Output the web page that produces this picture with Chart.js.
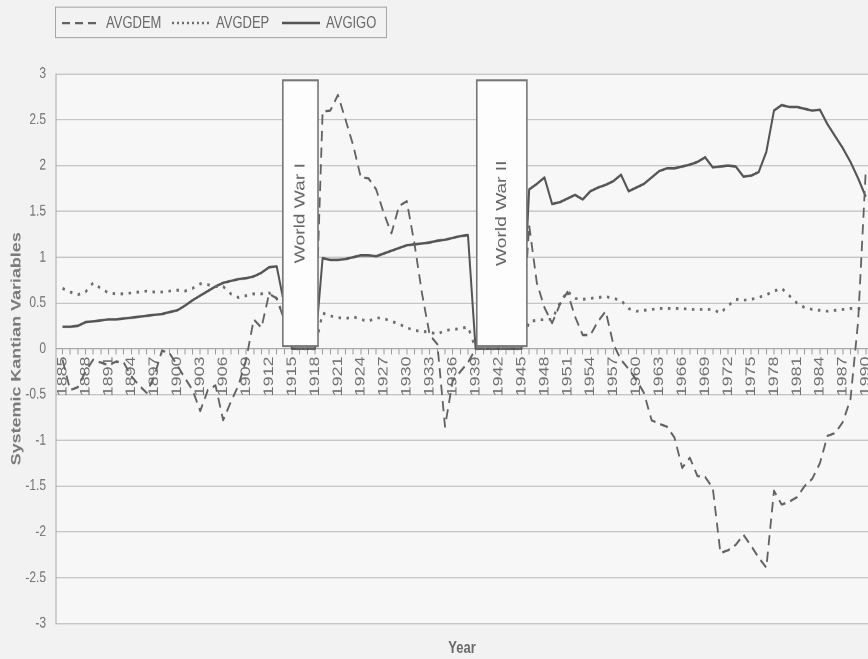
<!DOCTYPE html>
<html>
<head>
<meta charset="utf-8">
<title>Systemic Kantian Variables, 1885-1990</title>
<script src="https://cdn.jsdelivr.net/npm/chart.js@4.4.1/dist/chart.umd.min.js"></script>
<style>
  html, body { margin: 0; padding: 0; background: #f2f2f2; overflow: hidden; }
  /* the figure is laid out at 868x515 and stretched vertically to fill the 659px page */
  #stage {
    position: absolute; left: 0; top: 0; width: 868px; height: 515px;
    transform-origin: 0 0; transform: scaleY(1.2796);
    font-family: "Liberation Sans", Arial, sans-serif;
  }
  #chart { position: absolute; left: 0; top: 0; }
  #legendBox {
    position: absolute; left: 55px; top: 5px; width: 332px; height: 25px;
    border: 1px solid #a5a5a5; box-sizing: border-box;
  }
  .legendItem {
    position: absolute; top: 5px; height: 25px; display: flex; align-items: center;
    font-size: 13px; color: #6a6a6a; white-space: nowrap;
  }
  .legendItem svg { margin-right: 6px; }
  #xTitle {
    position: absolute; left: 56px; width: 812px; top: 498px; text-align: center;
    font-size: 13px; font-weight: bold; color: #6a6a6a;
  }
</style>
</head>
<body>
<div id="stage">
  <canvas id="chart" width="868" height="515"></canvas>
  <div id="legendBox"></div>
  <div id="xTitle">Year</div>
</div>
<script>
// ---- data -------------------------------------------------------------
const years = [
  1885, 1886, 1887, 1888, 1889, 1890, 1891, 1892, 1893, 1894,
  1895, 1896, 1897, 1898, 1899, 1900, 1901, 1902, 1903, 1904,
  1905, 1906, 1907, 1908, 1909, 1910, 1911, 1912, 1913, 1914,
  1915, 1916, 1917, 1918, 1919, 1920, 1921, 1922, 1923, 1924,
  1925, 1926, 1927, 1928, 1929, 1930, 1931, 1932, 1933, 1934,
  1935, 1936, 1937, 1938, 1939, 1940, 1941, 1942, 1943, 1944,
  1945, 1946, 1947, 1948, 1949, 1950, 1951, 1952, 1953, 1954,
  1955, 1956, 1957, 1958, 1959, 1960, 1961, 1962, 1963, 1964,
  1965, 1966, 1967, 1968, 1969, 1970, 1971, 1972, 1973, 1974,
  1975, 1976, 1977, 1978, 1979, 1980, 1981, 1982, 1983, 1984,
  1985, 1986, 1987, 1988, 1989, 1990
];

const avgDem = [
  -0.12, -0.45, -0.42, -0.25, -0.12, -0.15, -0.18, -0.14, -0.15, -0.30,
  -0.40, -0.48, -0.30, -0.02, -0.05, -0.18, -0.32, -0.45, -0.68, -0.45,
  -0.40, -0.78, -0.58, -0.40, -0.12, 0.32, 0.23, 0.60, 0.55, 0.31,
  0, 0, 0, 0, 2.59, 2.60, 2.77, 2.50, 2.22, 1.87,
  1.86, 1.74, 1.48, 1.26, 1.56, 1.61, 1.15, 0.60, 0.15, 0.05,
  -0.85, -0.35, -0.25, -0.15, 0, 0, 0, 0, 0, 0,
  0, 1.35, 0.72, 0.45, 0.28, 0.48, 0.62, 0.35, 0.15, 0.15,
  0.30, 0.41, 0.05, -0.12, -0.22, -0.34, -0.48, -0.78, -0.82, -0.85,
  -0.97, -1.30, -1.19, -1.39, -1.40, -1.52, -2.23, -2.20, -2.14, -2.03,
  -2.15, -2.28, -2.39, -1.55, -1.70, -1.67, -1.62, -1.50, -1.42, -1.25,
  -0.95, -0.92, -0.80, -0.55, 0.30, 1.95
];

const avgDep = [
  0.66, 0.62, 0.59, 0.62, 0.72, 0.66, 0.61, 0.60, 0.60, 0.61,
  0.62, 0.63, 0.62, 0.62, 0.63, 0.64, 0.63, 0.66, 0.71, 0.70,
  0.68, 0.68, 0.60, 0.56, 0.58, 0.60, 0.60, 0.61, 0.55, 0.32,
  0, 0, 0, 0, 0.39, 0.36, 0.34, 0.33, 0.35, 0.32,
  0.30, 0.34, 0.33, 0.30, 0.27, 0.23, 0.20, 0.19, 0.18, 0.16,
  0.20, 0.21, 0.22, 0.24, 0, 0, 0, 0, 0, 0,
  0, 0.30, 0.31, 0.32, 0.32, 0.50, 0.63, 0.55, 0.54, 0.55,
  0.56, 0.57, 0.55, 0.53, 0.44, 0.41, 0.42, 0.43, 0.44, 0.44,
  0.44, 0.44, 0.43, 0.43, 0.43, 0.43, 0.39, 0.47, 0.54, 0.53,
  0.54, 0.56, 0.59, 0.63, 0.66, 0.58, 0.50, 0.45, 0.43, 0.42,
  0.41, 0.42, 0.43, 0.44, 0.44, 0.43
];

const avgIgo = [
  0.24, 0.24, 0.25, 0.29, 0.30, 0.31, 0.32, 0.32, 0.33, 0.34,
  0.35, 0.36, 0.37, 0.38, 0.40, 0.42, 0.47, 0.53, 0.58, 0.63,
  0.68, 0.72, 0.74, 0.76, 0.77, 0.79, 0.83, 0.89, 0.90, 0.48,
  0, 0, 0, 0, 0.99, 0.97, 0.97, 0.98, 1.00, 1.02,
  1.02, 1.01, 1.04, 1.07, 1.10, 1.13, 1.14, 1.15, 1.16, 1.18,
  1.19, 1.21, 1.23, 1.24, 0, 0, 0, 0, 0, 0,
  0, 1.74, 1.80, 1.87, 1.58, 1.60, 1.64, 1.68, 1.63, 1.72,
  1.76, 1.79, 1.83, 1.90, 1.72, 1.76, 1.80, 1.87, 1.94, 1.97,
  1.97, 1.99, 2.01, 2.04, 2.09, 1.98, 1.99, 2.00, 1.99, 1.88,
  1.89, 1.93, 2.15, 2.60, 2.66, 2.64, 2.64, 2.62, 2.60, 2.61,
  2.45, 2.32, 2.19, 2.04, 1.86, 1.66
];

// labelled years on the horizontal axis
const tickYears = [
  1885, 1888, 1891, 1894, 1897, 1900, 1903, 1906, 1909, 1912, 1915, 1918,
  1921, 1924, 1927, 1930, 1933, 1936, 1939, 1942, 1945, 1948, 1951, 1954,
  1957, 1960, 1963, 1966, 1969, 1972, 1975, 1978, 1981, 1984, 1987, 1990
];

const yTicks = [-3, -2.5, -2, -1.5, -1, -0.5, 0, 0.5, 1, 1.5, 2, 2.5, 3];

// war periods marked by boxes (in years and axis units)
const warLabels = ['World War I', 'World War II'];
const warStart = [1913.8, 1939.15];
const warEnd = [1918.4, 1945.7];
const warBoxTop = 2.93;
const warBoxBottom = 0.03;

// ---- drawing ----------------------------------------------------------
const FONT = '"Liberation Sans", Arial, sans-serif';
const toPoints = (vals) => years.map((yr, i) => ({ x: yr, y: vals[i] }));

const datasets = [
  { label: 'AVGDEM', data: toPoints(avgDem), borderColor: '#626262', borderWidth: 1.8,
    borderDash: [8, 5], legendDash: '8 5' },
  { label: 'AVGDEP', data: toPoints(avgDep), borderColor: '#6c6c6c', borderWidth: 2.2,
    borderDash: [2.5, 5.5], legendDash: '2 3' },
  { label: 'AVGIGO', data: toPoints(avgIgo), borderColor: '#555555', borderWidth: 2,
    borderDash: [], legendDash: '' }
].map(d => Object.assign({ pointRadius: 0, tension: 0, fill: false, borderJoinStyle: 'round' }, d));

// light fill behind the plotting region
const plotBackground = {
  id: 'plotBackground',
  beforeDraw(chart) {
    const { ctx, chartArea: a } = chart;
    ctx.save();
    ctx.fillStyle = '#f7f7f7';
    ctx.fillRect(a.left, a.top, a.right - a.left, a.bottom - a.top);
    ctx.restore();
  }
};

// framed boxes with vertical captions over the war years
const warBoxes = {
  id: 'warBoxes',
  afterDatasetsDraw(chart) {
    const { ctx, scales: { x, y } } = chart;
    warLabels.forEach((label, i) => {
      const x1 = x.getPixelForValue(warStart[i]);
      const x2 = x.getPixelForValue(warEnd[i]);
      const y1 = y.getPixelForValue(warBoxTop);
      const y2 = y.getPixelForValue(warBoxBottom);
      ctx.save();
      ctx.fillStyle = '#fdfdfd';
      ctx.fillRect(x1, y1, x2 - x1, y2 - y1);
      ctx.strokeStyle = '#767676';
      ctx.lineWidth = 1.6;
      ctx.strokeRect(x1, y1, x2 - x1, y2 - y1);
      ctx.translate((x1 + x2) / 2, (y1 + y2) / 2);
      ctx.rotate(-Math.PI / 2);
      ctx.fillStyle = '#666666';
      ctx.font = '15px ' + FONT;
      ctx.textAlign = 'center';
      ctx.textBaseline = 'middle';
      ctx.fillText(label, 0, 0);
      ctx.restore();
    });
  }
};

new Chart(document.getElementById('chart'), {
  type: 'line',
  data: { datasets },
  options: {
    responsive: false,
    animation: false,
    devicePixelRatio: 2,
    layout: { padding: { top: 57.8, bottom: 27.7, left: 0, right: 0 } },
    plugins: { legend: { display: false }, tooltip: { enabled: false } },
    scales: {
      x: {
        type: 'linear',
        min: 1884.15,
        max: 1990.29,
        position: { y: 0 },
        afterBuildTicks: (s) => { s.ticks = years.map(v => ({ value: v })); },
        afterFit: (s) => { s.height = 0; s.paddingLeft = 0; s.paddingRight = 0; },
        grid: { drawOnChartArea: false, drawTicks: true, tickLength: 4, color: '#9a9a9a' },
        border: { color: '#a8a8a8', width: 1 },
        ticks: {
          autoSkip: false, minRotation: 90, maxRotation: 90, padding: 2,
          color: '#707070', font: { size: 14, family: FONT },
          callback: (v) => tickYears.includes(v) ? String(v) : ''
        }
      },
      y: {
        type: 'linear',
        min: -3,
        max: 3,
        afterBuildTicks: (s) => { s.ticks = yTicks.map(v => ({ value: v })); },
        afterFit: (s) => { s.width = 56; s.paddingTop = 0; s.paddingBottom = 0; },
        grid: { color: '#c6c6c6', lineWidth: 1, drawTicks: false },
        border: { color: '#a8a8a8', width: 1 },
        ticks: {
          padding: 10, color: '#707070', font: { size: 12, family: FONT },
          callback: (v) => String(v)
        },
        title: {
          display: true, text: 'Systemic Kantian Variables', color: '#7a7a7a',
          font: { size: 14, weight: 'bold', family: FONT }, padding: { top: 8, bottom: 0 }
        }
      }
    }
  },
  plugins: [plotBackground, warBoxes]
});

// ---- legend (built from the dataset styles) ----------------------------
const legendLeft = [62, 172, 282];
const stage = document.getElementById('stage');
datasets.forEach((d, i) => {
  const item = document.createElement('div');
  item.className = 'legendItem';
  item.style.left = legendLeft[i] + 'px';
  const ns = 'http://www.w3.org/2000/svg';
  const svg = document.createElementNS(ns, 'svg');
  svg.setAttribute('width', '38');
  svg.setAttribute('height', '6');
  const line = document.createElementNS(ns, 'line');
  line.setAttribute('x1', '0'); line.setAttribute('y1', '3');
  line.setAttribute('x2', '38'); line.setAttribute('y2', '3');
  line.setAttribute('stroke', d.borderColor);
  line.setAttribute('stroke-width', String(Math.min(d.borderWidth, 2)));
  if (d.legendDash) line.setAttribute('stroke-dasharray', d.legendDash);
  svg.appendChild(line);
  const text = document.createElement('span');
  text.textContent = d.label;
  item.appendChild(svg);
  item.appendChild(text);
  stage.appendChild(item);
});
</script>
</body>
</html>
